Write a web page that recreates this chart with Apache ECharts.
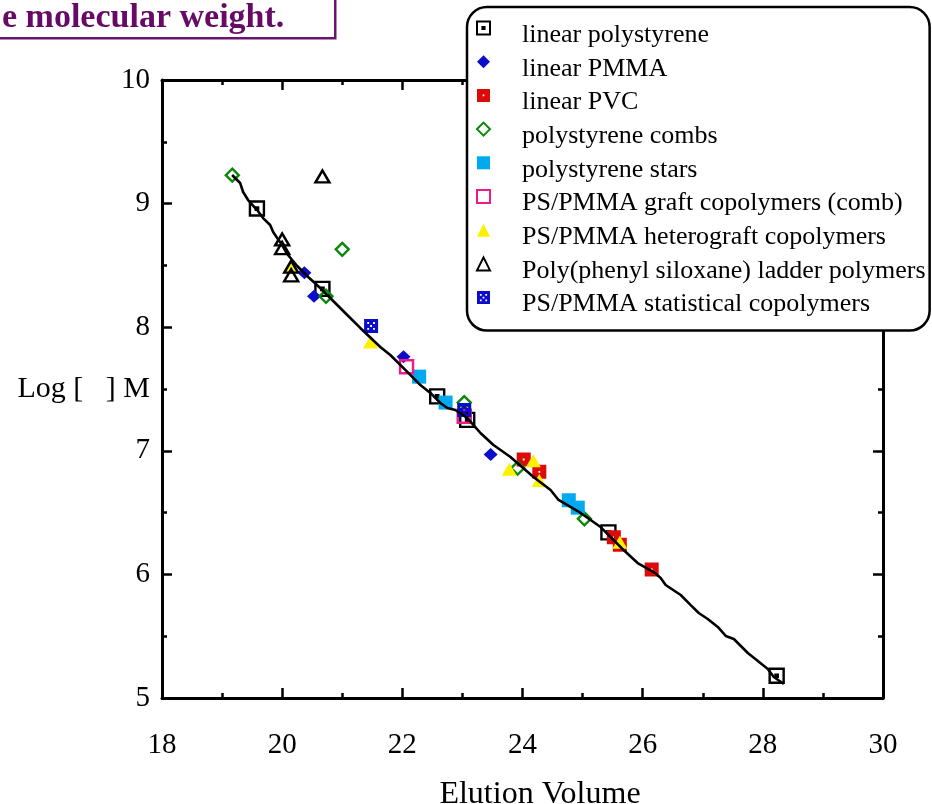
<!DOCTYPE html>
<html>
<head>
<meta charset="utf-8">
<title>Universal calibration</title>
<script src="https://cdn.jsdelivr.net/npm/echarts@6/dist/echarts.min.js"></script>
<style>
  html, body { margin: 0; padding: 0; background: #fff; }
  #chart { width: 932px; height: 804px; }
</style>
</head>
<body>
<div id="chart"></div>
<script>
// axis ticks
const xTicks = [18, 20, 22, 24, 26, 28, 30];
const yTicks = [5, 6, 7, 8, 9, 10];

// [elution volume, log [eta] M]
const linearPS = [[19.58, 8.96], [20.67, 8.31], [22.58, 7.44], [23.08, 7.25], [25.43, 6.34], [28.23, 5.18]];
const linearPMMA = [[20.37, 8.44], [20.53, 8.25], [22.02, 7.76], [23.47, 6.97]];
const linearPVC = [[24.02, 6.93], [24.28, 6.83], [25.52, 6.30], [25.62, 6.24], [26.15, 6.04]];
const psCombs = [[19.17, 9.23], [21.0, 8.63], [20.73, 8.25], [23.03, 7.39], [23.92, 6.86], [25.03, 6.45]];
const psStars = [[22.28, 7.60], [22.72, 7.39], [24.77, 6.60], [24.92, 6.54]];
const graftComb = [[22.07, 7.68], [23.03, 7.28]];
const heterograft = [[20.15, 8.49], [21.47, 7.88], [23.78, 6.85], [24.18, 6.92], [24.28, 6.76], [25.62, 6.26]];
const ladder = [[20.67, 9.22], [20.0, 8.71], [20.0, 8.64], [20.15, 8.49], [20.15, 8.42]];
const statistical = [[21.48, 8.01], [23.03, 7.33]];

// calibration curve
const curve = [
  [19.167, 9.231], [19.30, 9.167], [19.35, 9.094], [19.433, 9.029], [19.583, 8.948],
  [19.683, 8.883], [19.80, 8.827], [19.85, 8.770], [19.917, 8.722], [20.0, 8.665],
  [20.083, 8.592], [20.25, 8.495], [20.433, 8.406], [20.633, 8.317], [20.80, 8.236],
  [21.083, 8.099], [21.30, 7.994], [21.633, 7.840], [21.80, 7.775], [22.083, 7.638],
  [22.30, 7.532], [22.467, 7.468], [22.633, 7.387], [22.75, 7.346], [22.883, 7.330],
  [23.083, 7.265], [23.30, 7.144], [23.517, 7.047], [23.80, 6.950], [24.183, 6.788],
  [24.467, 6.683], [24.60, 6.602], [24.967, 6.497], [25.30, 6.383], [25.517, 6.278],
  [25.683, 6.197], [25.917, 6.092], [26.183, 6.019], [26.30, 5.971], [26.383, 5.914],
  [26.633, 5.833], [26.80, 5.752], [26.933, 5.688], [27.083, 5.639], [27.25, 5.575],
  [27.383, 5.502], [27.517, 5.477], [27.75, 5.364], [27.917, 5.299], [28.083, 5.235],
  [28.183, 5.170], [28.35, 5.113]
];

const serif = '"Liberation Serif", "Times New Roman", serif';

// symbols (holes drawn counter-clockwise)
const dotSquare = 'path://M0,0H12V12H0Z M5,5V7H7V5Z';
const holeSquare = 'path://M0,0H12V12H0Z M5.2,5.2V6.8H6.8V5.2Z';
const xSquare = 'path://M0,0H12V12H0Z' +
  ' M2.7,2.7V4.3H4.3V2.7Z M7.7,2.7V4.3H9.3V2.7Z M5.2,5.2V6.8H6.8V5.2Z' +
  ' M2.7,7.7V9.3H4.3V7.7Z M7.7,7.7V9.3H9.3V7.7Z';

const open = 'rgba(255,255,255,0)';

function scatter(name, data, symbol, size, style) {
  return {
    name, type: 'scatter', data, symbol, symbolSize: size, z: 3,
    itemStyle: Object.assign({ opacity: 1 }, style)
  };
}

const series = [
  scatter('linear polystyrene', linearPS, dotSquare, 14, { color: open, borderColor: '#000', borderWidth: 2.4 }),
  scatter('linear PMMA', linearPMMA, 'diamond', [14, 13], { color: '#0c0ccc' }),
  scatter('linear PVC', linearPVC, holeSquare, 14, { color: '#dd0a0a' }),
  scatter('polystyrene combs', psCombs, 'diamond', 13, { color: open, borderColor: '#0a880a', borderWidth: 2.4 }),
  scatter('polystyrene stars', psStars, 'rect', 14, { color: '#00aaee' }),
  scatter('PS/PMMA graft copolymers (comb)', graftComb, 'rect', 13, { color: open, borderColor: '#ee1a8a', borderWidth: 2.4 }),
  scatter('PS/PMMA heterograft copolymers', heterograft, 'triangle', [15, 13], { color: '#fff000' }),
  scatter('Poly(phenyl siloxane) ladder polymers', ladder, 'triangle', [14, 12], { color: open, borderColor: '#000', borderWidth: 2.4 }),
  scatter('PS/PMMA statistical copolymers', statistical, xSquare, 14, { color: '#0c0ccc' }),
  {
    name: 'calibration', type: 'line', data: curve, showSymbol: false, smooth: false,
    lineStyle: { color: '#000', width: 2.6 }, z: 5, silent: true
  }
];

const axisCommon = {
  axisLine: { show: true, onZero: false, lineStyle: { color: '#000', width: 3 } },
  axisTick: { show: true, inside: true, length: 10, lineStyle: { color: '#000', width: 2.5 } },
  minorTick: { show: true, splitNumber: 2, length: 5, lineStyle: { color: '#000', width: 2.5 } },
  splitLine: { show: false }
};

const chart = echarts.init(document.getElementById('chart'), null, { renderer: 'canvas' });

chart.setOption({
  animation: false,
  backgroundColor: '#fff',
  grid: { left: 162, right: 49, top: 80, bottom: 106, containLabel: false, outerBoundsMode: 'none' },
  xAxis: [
    Object.assign({
      type: 'value', position: 'bottom', min: xTicks[0], max: xTicks[xTicks.length - 1], interval: 2,
      axisLabel: { color: '#000', fontFamily: serif, fontSize: 29, margin: 33 },
      name: 'Elution Volume', nameLocation: 'middle', nameGap: 81, nameMoveOverlap: false,
      nameTextStyle: { color: '#000', fontFamily: serif, fontSize: 32, padding: [0, 0, 0, 35] }
    }, axisCommon),
    Object.assign({
      type: 'value', position: 'top', min: xTicks[0], max: xTicks[xTicks.length - 1], interval: 2,
      axisLabel: { show: false }
    }, axisCommon)
  ],
  yAxis: [
    Object.assign({
      type: 'value', position: 'left', min: yTicks[0], max: yTicks[yTicks.length - 1], interval: 1,
      axisLabel: { color: '#000', fontFamily: serif, fontSize: 29, margin: 12 },
      name: 'Log [   ] M', nameLocation: 'middle', nameRotate: 0, nameGap: 12, nameMoveOverlap: false,
      nameTextStyle: { color: '#000', fontFamily: serif, fontSize: 30, align: 'right', verticalAlign: 'middle', padding: [0, 0, 18, 0] }
    }, axisCommon),
    Object.assign({
      type: 'value', position: 'right', min: yTicks[0], max: yTicks[yTicks.length - 1], interval: 1,
      axisLabel: { show: false }
    }, axisCommon)
  ],
  legend: {
    data: series.slice(0, 9).map(s => s.name),
    formatter: name => '\n' + name,
    orient: 'vertical',
    left: 467,
    top: 7,
    padding: [1, 4, 13, 9],
    itemWidth: 13,
    itemHeight: 13,
    itemGap: -6.3,
    selectedMode: false,
    backgroundColor: '#fff',
    borderColor: '#000',
    borderWidth: 2.5,
    borderRadius: 20,
    textStyle: { color: '#000', fontFamily: serif, fontSize: 26, lineHeight: 14, padding: [0, 0, 0, 27] }
  },
  graphic: [
    {
      type: 'rect', left: -4, top: -4, z: 10,
      shape: { width: 338, height: 41 },
      style: { fill: '#fff', stroke: '#6a1470', lineWidth: 2.5 }
    },
    {
      type: 'text', x: 2, y: 18, z: 11,
      style: {
        text: 'e molecular weight.', fill: '#660a66',
        font: 'bold 34px ' + serif, verticalAlign: 'middle'
      }
    }
  ],
  series
});
</script>
</body>
</html>
